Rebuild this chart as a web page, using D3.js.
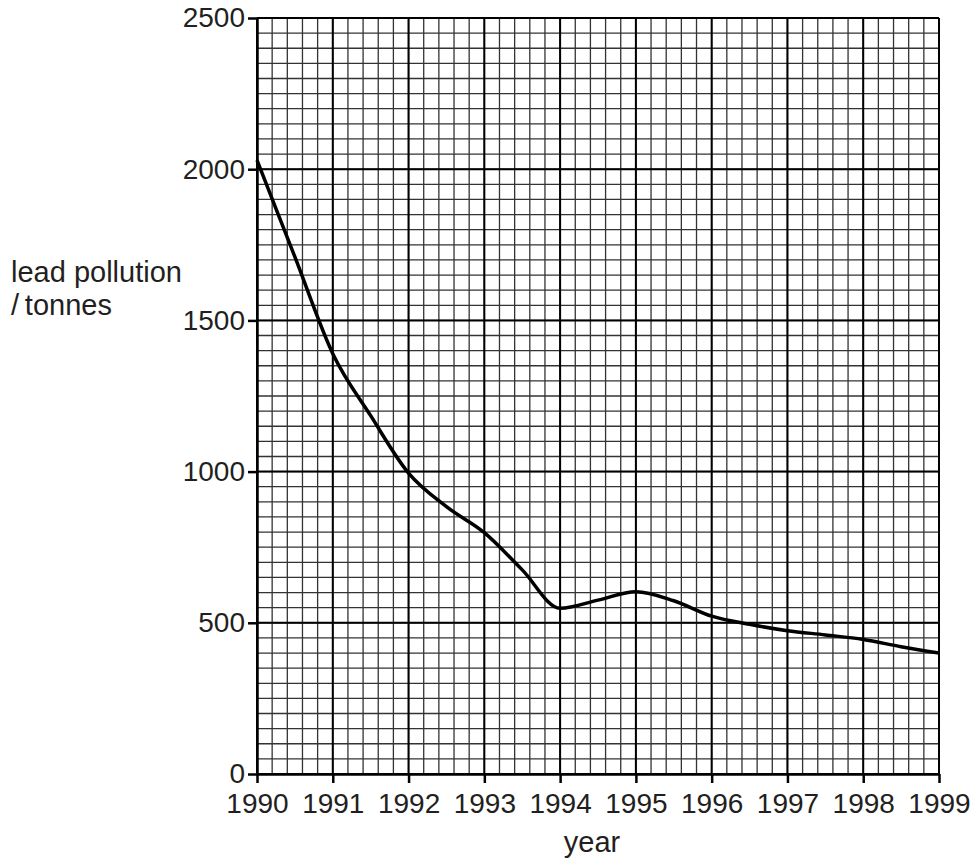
<!DOCTYPE html>
<html>
<head>
<meta charset="utf-8">
<script src="https://cdn.jsdelivr.net/npm/d3@7"></script>
<style>
  html, body { margin: 0; padding: 0; background: #fff; }
  svg { display: block; }
  text { font-family: "Liberation Sans", Arial, Helvetica, sans-serif; fill: #231f20; }
</style>
</head>
<body>
<svg id="chart" width="974" height="864"></svg>
<script>
// ---- data ----
const years = [1990, 1990.5, 1991, 1991.5, 1992, 1992.5, 1993, 1993.5, 1994, 1994.5,
               1995, 1995.5, 1996, 1996.5, 1997, 1997.5, 1998, 1998.5, 1999];
const leadTonnes = [2030, 1710, 1390, 1185, 995, 884, 798, 675, 548, 575,
                    603, 573, 522, 495, 474, 460, 445, 421, 400];
const xTickLabels = [1990, 1991, 1992, 1993, 1994, 1995, 1996, 1997, 1998, 1999];
const yTickLabels = [0, 500, 1000, 1500, 2000, 2500];
const yLabelLines = ["lead pollution", "/\u2009tonnes"];
const xLabel = "year";

(function () {
// ---- layout ----
const svg = d3.select("#chart");
const pL = 257, pR = 939, pT = 18, pB = 774;
const x = d3.scaleLinear().domain([1990, 1999]).range([pL, pR]);
const y = d3.scaleLinear().domain([0, 2500]).range([pB, pT]);

// minor grid
const minorX = d3.range(0, 9 * 5 + 1).map(i => 1990 + i * 0.2);
const minorY = d3.range(0, 2500 / 50 + 1).map(i => i * 50);
const grid = svg.append("g");
grid.selectAll("line.mx").data(minorX).join("line")
  .attr("x1", d => x(d)).attr("x2", d => x(d))
  .attr("y1", pT).attr("y2", pB)
  .attr("stroke", "#333").attr("stroke-width", 1.3);
grid.selectAll("line.my").data(minorY).join("line")
  .attr("y1", d => y(d)).attr("y2", d => y(d))
  .attr("x1", pL).attr("x2", pR)
  .attr("stroke", "#333").attr("stroke-width", 1.3);
// major grid
grid.selectAll("line.Mx").data(xTickLabels).join("line")
  .attr("x1", d => x(d)).attr("x2", d => x(d))
  .attr("y1", pT).attr("y2", pB)
  .attr("stroke", "#000").attr("stroke-width", 2);
grid.selectAll("line.My").data(yTickLabels).join("line")
  .attr("y1", d => y(d)).attr("y2", d => y(d))
  .attr("x1", pL).attr("x2", pR)
  .attr("stroke", "#000").attr("stroke-width", 2);

// axes
const xAxis = d3.axisBottom(x).tickValues(xTickLabels).tickFormat(d3.format("d"))
  .tickSize(9).tickSizeOuter(0).tickPadding(10);
const gx = svg.append("g").attr("transform", `translate(0,${pB})`).call(xAxis);
gx.select(".domain").attr("stroke", "#000").attr("stroke-width", 2.5);
gx.selectAll(".tick line").attr("stroke", "#000").attr("stroke-width", 2.5);
gx.selectAll(".tick text").attr("font-size", 28).attr("fill", "#231f20")
  .attr("font-family", "Liberation Sans, Arial, sans-serif");

const yAxis = d3.axisLeft(y).tickValues(yTickLabels).tickFormat(d3.format("d"))
  .tickSize(9).tickSizeOuter(0).tickPadding(3);
const gy = svg.append("g").attr("transform", `translate(${pL},0)`).call(yAxis);
gy.select(".domain").attr("stroke", "#000").attr("stroke-width", 2.5);
gy.selectAll(".tick line").attr("stroke", "#000").attr("stroke-width", 2.5);
gy.selectAll(".tick text").attr("font-size", 28).attr("fill", "#231f20")
  .attr("font-family", "Liberation Sans, Arial, sans-serif");

// line
const pts = years.map((yr, i) => [yr, leadTonnes[i]]);
const line = d3.line().x(d => x(d[0])).y(d => y(d[1])).curve(d3.curveMonotoneX);
svg.append("path").datum(pts).attr("d", line)
  .attr("fill", "none").attr("stroke", "#000").attr("stroke-width", 3.5)
  .attr("stroke-linejoin", "round");

// labels
const yl = svg.append("text").attr("font-size", 29);
yLabelLines.forEach((t, i) => {
  yl.append("tspan").attr("x", 11).attr("y", 282 + i * 33).text(t);
});
svg.append("text").attr("x", 592).attr("y", 852).attr("text-anchor", "middle")
  .attr("font-size", 29).text(xLabel);
})();
</script>
</body>
</html>
